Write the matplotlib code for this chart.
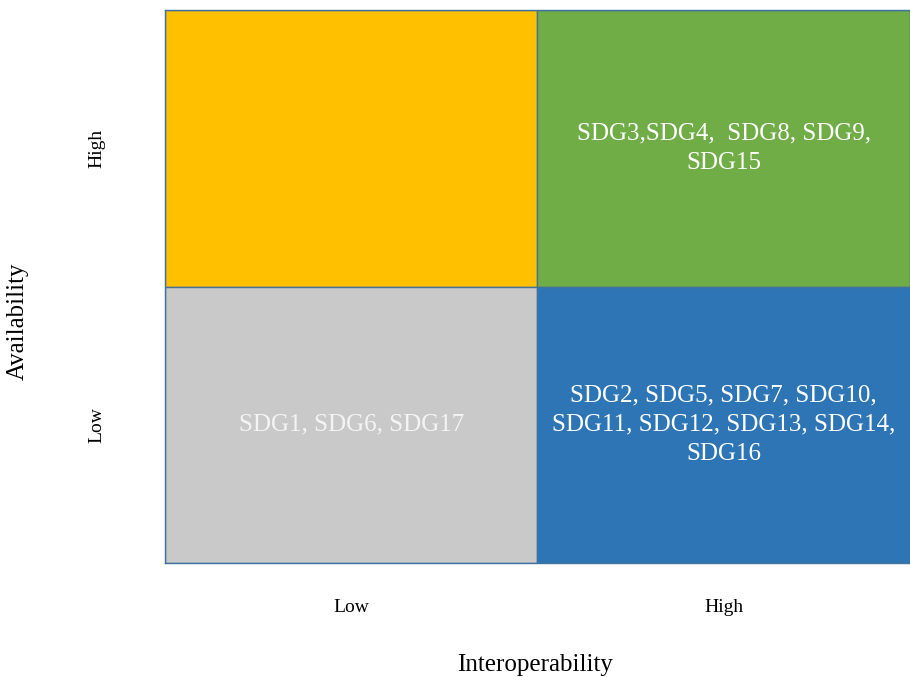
import numpy as np
import matplotlib
matplotlib.use('Agg')
import matplotlib.pyplot as plt

# 2x2 matrix: interoperability (x) vs availability (y)
levels = ['Low', 'High']
cell_x = [0, 1, 0, 1]          # interoperability index
cell_y = [1, 1, 0, 0]          # availability index
cell_colors = ['#FFC000', '#70AD47', '#C9C9C9', '#2E75B6']
cell_text = ['',
             'SDG3,SDG4,  SDG8, SDG9,\nSDG15',
             'SDG1, SDG6, SDG17',
             'SDG2, SDG5, SDG7, SDG10,\nSDG11, SDG12, SDG13, SDG14,\nSDG16']
text_colors = ['white', 'white', '#F4F4F4', 'white']

plt.rcParams['font.family'] = ['Liberation Serif', 'DejaVu Serif']

fig = plt.figure(figsize=(9.10, 6.77), dpi=100)
ax = fig.add_axes([0.1813, 0.1684, 0.8187, 0.8168])

edge = '#41719C'
ax.bar(cell_x, 1, width=1, bottom=cell_y, align='edge',
       color=cell_colors, edgecolor=edge, linewidth=1.0)

for x, y, t, c in zip(cell_x, cell_y, cell_text, text_colors):
    if t:
        ax.text(x+0.5, y+0.5, t, ha='center', va='center', color=c,
                fontsize=18, linespacing=1.45)

ax.set_xlim(0, 2)
ax.set_ylim(0, 2)
ax.set_xticks([0.5, 1.5])
ax.set_xticklabels(levels, fontsize=14)
ax.set_yticks([0.5, 1.5])
ax.set_yticklabels(levels, fontsize=14, rotation=90, va='center')
ax.tick_params(length=0)
ax.tick_params(axis='x', pad=26)
ax.tick_params(axis='y', pad=43)
for s in ax.spines.values():
    s.set_color(edge)
    s.set_linewidth(1.0)

ax.set_xlabel('Interoperability', fontsize=18, va='center')
ax.xaxis.set_label_coords(0.588, 0.0177, transform=fig.transFigure)
ax.set_ylabel('Availability', fontsize=18, va='center', ha='center')
ax.yaxis.set_label_coords(0.0198, 0.526, transform=fig.transFigure)

fig.savefig('out.png', dpi=100)
